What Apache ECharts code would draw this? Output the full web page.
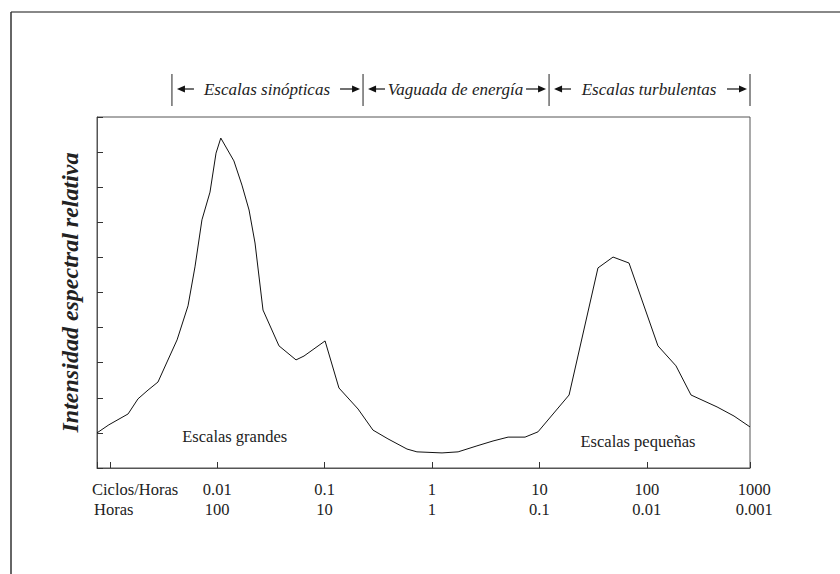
<!DOCTYPE html>
<html><head><meta charset="utf-8">
<script src="https://cdn.jsdelivr.net/npm/echarts@6/dist/echarts.min.js"></script>
<style>html,body{margin:0;padding:0;background:#fff}#c{width:840px;height:574px}</style>
</head><body><div id="c"></div>
<script>
// Spectrum (cycles per hour) and relative spectral intensity
const freq = [0.00076, 0.00098, 0.00148, 0.00183, 0.00227, 0.00281, 0.00341, 0.00423, 0.00535, 0.00621,
  0.00721, 0.00857, 0.00975, 0.0108, 0.0143, 0.0170, 0.0198, 0.0225, 0.0267, 0.0376,
  0.0542, 0.0643, 0.101, 0.136, 0.205, 0.282, 0.389, 0.585, 0.724, 1.24,
  1.75, 2.62, 3.70, 5.11, 7.35, 9.70, 18.9, 35.1, 48.5, 68.3,
  127, 187, 258, 451, 649, 914];
const intensity = [1.00, 1.23, 1.54, 1.97, 2.22, 2.45, 3.02, 3.65, 4.62, 5.73,
  7.07, 7.86, 8.97, 9.40, 8.75, 8.06, 7.35, 6.41, 4.50, 3.48,
  3.08, 3.19, 3.62, 2.28, 1.68, 1.08, 0.83, 0.54, 0.46, 0.43,
  0.46, 0.63, 0.77, 0.88, 0.88, 1.03, 2.08, 5.70, 6.01, 5.84,
  3.48, 2.91, 2.08, 1.74, 1.48, 1.17];
const tickValues = [0.01, 0.1, 1, 10, 100, 1000];
const cycleLabels = ['0.01', '0.1', '1', '10', '100', '1000'];
const hourLabels = ['100', '10', '1', '0.1', '0.01', '0.001'];
const rowTitles = ['Ciclos/Horas', 'Horas'];
const regionBounds = [0.00379, 0.228, 12.3, 914];
const regionNames = ['Escalas sinópticas', 'Vaguada de energía', 'Escalas turbulentas'];
const noteTexts = ['Escalas grandes', 'Escalas pequeñas'];
const noteFreq = [0.01456, 82.8];
const noteLevel = [0.89, 0.75];
const yTitle = 'Intensidad espectral relativa';
const xMin = 0.00076, xMax = 914;

const chart = echarts.init(document.getElementById('c'), null, {renderer: 'svg'});
const serif = '"Liberation Serif", "Times New Roman", serif';
const ink = '#222';

chart.setOption({
  animation: false,
  backgroundColor: '#fff',
  grid: {left: 97, top: 117, right: 90, bottom: 106, show: true, borderColor: '#555', borderWidth: 1},
  xAxis: {
    type: 'log', logBase: 10, min: xMin, max: xMax,
    axisLine: {show: true, lineStyle: {color: '#555', width: 1}},
    axisTick: {show: true, inside: true, length: 6, lineStyle: {color: '#333'}},
    minorTick: {show: false},
    axisLabel: {show: false},
    splitLine: {show: false}
  },
  yAxis: {
    type: 'value', min: 0, max: 10, interval: 1,
    axisLine: {show: true, lineStyle: {color: '#555', width: 1}},
    axisTick: {show: true, inside: true, length: 6, lineStyle: {color: '#333'}},
    axisLabel: {show: false},
    splitLine: {show: false},
    name: yTitle, nameLocation: 'middle', nameGap: 15, nameRotate: 90,
    nameTextStyle: {fontFamily: serif, fontStyle: 'italic', fontWeight: 'bold', fontSize: 24, color: ink}
  },
  series: [{
    type: 'line',
    data: freq.map((f, i) => [f, intensity[i]]),
    showSymbol: false, symbol: 'none',
    lineStyle: {color: '#111', width: 1},
    silent: true
  }]
});

const px = v => chart.convertToPixel({xAxisIndex: 0}, v);
const py = v => chart.convertToPixel({yAxisIndex: 0}, v);

const g = [];
// outer frame (left and top edges)
g.push({type: 'line', shape: {x1: 11, y1: 12, x2: 840, y2: 12}, style: {stroke: '#888', lineWidth: 2}});
g.push({type: 'line', shape: {x1: 11, y1: 12, x2: 11, y2: 574}, style: {stroke: '#333', lineWidth: 1.5}});

// tick label rows
const row1 = 489, row2 = 509;
g.push({type: 'text', x: 92, y: row1, style: {text: rowTitles[0], font: '16.5px ' + serif, fill: ink, textAlign: 'left', textVerticalAlign: 'middle'}});
g.push({type: 'text', x: 94, y: row2, style: {text: rowTitles[1], font: '16.5px ' + serif, fill: ink, textAlign: 'left', textVerticalAlign: 'middle'}});
tickValues.forEach((v, i) => {
  const x = px(v);
  g.push({type: 'text', x: x, y: row1, style: {text: cycleLabels[i], font: '16.5px ' + serif, fill: ink, textAlign: 'center', textVerticalAlign: 'middle'}});
  g.push({type: 'text', x: x, y: row2, style: {text: hourLabels[i], font: '16.5px ' + serif, fill: ink, textAlign: 'center', textVerticalAlign: 'middle'}});
});

// notes inside plot
noteTexts.forEach((t, i) => {
  g.push({type: 'text', x: px(noteFreq[i]), y: py(noteLevel[i]), style: {text: t, font: '16.5px ' + serif, fill: ink, textAlign: 'center', textVerticalAlign: 'middle'}});
});

// region brackets above plot
const ty = 89, barTop = 74, barBot = 106;
const bx = regionBounds.map(px);
bx.forEach(x => g.push({type: 'line', shape: {x1: x, y1: barTop, x2: x, y2: barBot}, style: {stroke: '#222', lineWidth: 1}}));
function arrow(xHead, dir, len) {
  const hx = 8, hy = 3.5;
  g.push({type: 'line', shape: {x1: xHead + dir * hx * 0.6, y1: ty, x2: xHead + dir * len, y2: ty}, style: {stroke: '#111', lineWidth: 1.2}});
  g.push({type: 'polygon', shape: {points: [[xHead, ty], [xHead + dir * hx, ty - hy], [xHead + dir * hx, ty + hy]]}, style: {fill: '#111'}});
}
regionNames.forEach((name, i) => {
  const a = bx[i], b = bx[i + 1];
  const lh = a + 5, rh = b - 3;
  arrow(lh, 1, 17);
  arrow(rh, -1, 20);
  const cx = ((lh + 17) + (rh - 20)) / 2;
  g.push({type: 'text', x: cx, y: ty, style: {text: name, font: 'italic 17px ' + serif, fill: ink, textAlign: 'center', textVerticalAlign: 'middle'}});
});

chart.setOption({graphic: {elements: g}});
</script>
</body></html>
